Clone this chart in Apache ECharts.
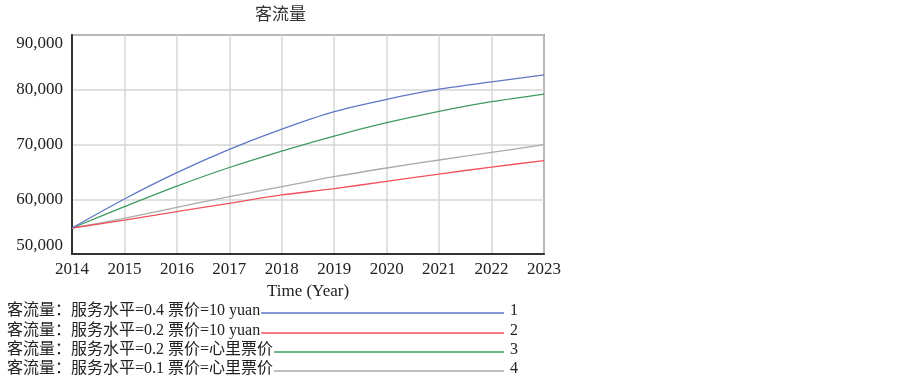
<!DOCTYPE html>
<html>
<head>
  <meta charset="utf-8">
  <title>客流量</title>
  <script src="https://cdn.jsdelivr.net/npm/echarts@6/dist/echarts.min.js"></script>
</head>
<body style="margin:0;background:#fff">
<div id="main" style="width:903px;height:380px"></div>
<script type="text/javascript">
  // data
  var years = ['2014', '2015', '2016', '2017', '2018', '2019', '2020', '2021', '2022', '2023'];
  var seriesNames = [
    '客流量：服务水平=0.4 票价=10 yuan',
    '客流量：服务水平=0.2 票价=10 yuan',
    '客流量：服务水平=0.2 票价=心里票价',
    '客流量：服务水平=0.1 票价=心里票价'
  ];
  var run1 = [54750, 60050, 64850, 69100, 72800, 76000, 78250, 80100, 81450, 82700];
  var run2 = [54750, 56200, 57750, 59250, 60780, 61950, 63270, 64600, 65880, 67050];
  var run3 = [54750, 58650, 62400, 65800, 68800, 71550, 73980, 76060, 77820, 79220];
  var run4 = [54750, 56500, 58520, 60470, 62290, 64120, 65710, 67170, 68570, 69960];
  var colors = ['#5f77c6', '#f2515c', '#3f9a60', '#ababab'];

  var FONT = "'Liberation Serif', 'Noto Sans CJK SC', serif";
  var myChart = echarts.init(document.getElementById('main'));

  // legend drawn as Vensim-like rows: text, line to fixed end, run number
  var ctx = document.createElement('canvas').getContext('2d');
  ctx.font = '16px ' + FONT;
  var legendItems = [];
  var rowY = [312, 332, 351, 370];
  seriesNames.forEach(function (name, i) {
    var w = ctx.measureText(name).width;
    legendItems.push({
      type: 'text', left: 7, top: rowY[i] - 9,
      style: { text: name, font: '16px ' + FONT, fill: '#222' }
    });
    legendItems.push({
      type: 'line',
      shape: { x1: 7 + w + 1, y1: rowY[i] + 1, x2: 504, y2: rowY[i] + 1 },
      style: { stroke: colors[i], lineWidth: 1.3 }
    });
    legendItems.push({
      type: 'text', left: 510, top: rowY[i] - 9,
      style: { text: String(i + 1), font: '16px ' + FONT, fill: '#222' }
    });
  });

  var runs = [run1, run2, run3, run4];
  var option = {
    animation: false,
    color: colors,
    title: {
      text: '客流量',
      left: 250, top: 2,
      textStyle: { fontFamily: FONT, fontSize: 17, fontWeight: 'normal', color: '#333' }
    },
    grid: {
      left: 72, right: 359, top: 35, bottom: 126,
      show: true, borderColor: '#333', borderWidth: 1.5
    },
    xAxis: {
      type: 'category',
      data: years,
      boundaryGap: false,
      name: 'Time (Year)',
      nameLocation: 'middle',
      nameGap: 23,
      nameTextStyle: { fontFamily: FONT, fontSize: 17, color: '#222' },
      axisLine: { lineStyle: { color: '#333', width: 2 } },
      axisTick: { show: false },
      axisLabel: { fontFamily: FONT, fontSize: 17, color: '#222', margin: 7 },
      splitLine: { show: true, lineStyle: { color: '#d6d6d6', width: 1.5 } }
    },
    yAxis: {
      type: 'value',
      min: 50000, max: 90000, interval: 10000,
      axisLine: { show: true, lineStyle: { color: '#333', width: 2 } },
      axisTick: { show: false },
      axisLabel: {
        fontFamily: FONT, fontSize: 17, color: '#222', margin: 9,
        verticalAlignMaxLabel: 'top', verticalAlignMinLabel: 'bottom',
        formatter: function (v) { return v.toLocaleString('en-US'); }
      },
      splitLine: { show: true, lineStyle: { color: '#d6d6d6', width: 1.5 } }
    },
    series: runs.map(function (r, i) {
      return {
        name: seriesNames[i],
        type: 'line',
        data: r,
        smooth: 0.3,
        showSymbol: false,
        z: 10 - i,
        lineStyle: { width: 1.3, color: colors[i] }
      };
    }),
    graphic: legendItems
  };
  myChart.setOption(option);
</script>
</body>
</html>
